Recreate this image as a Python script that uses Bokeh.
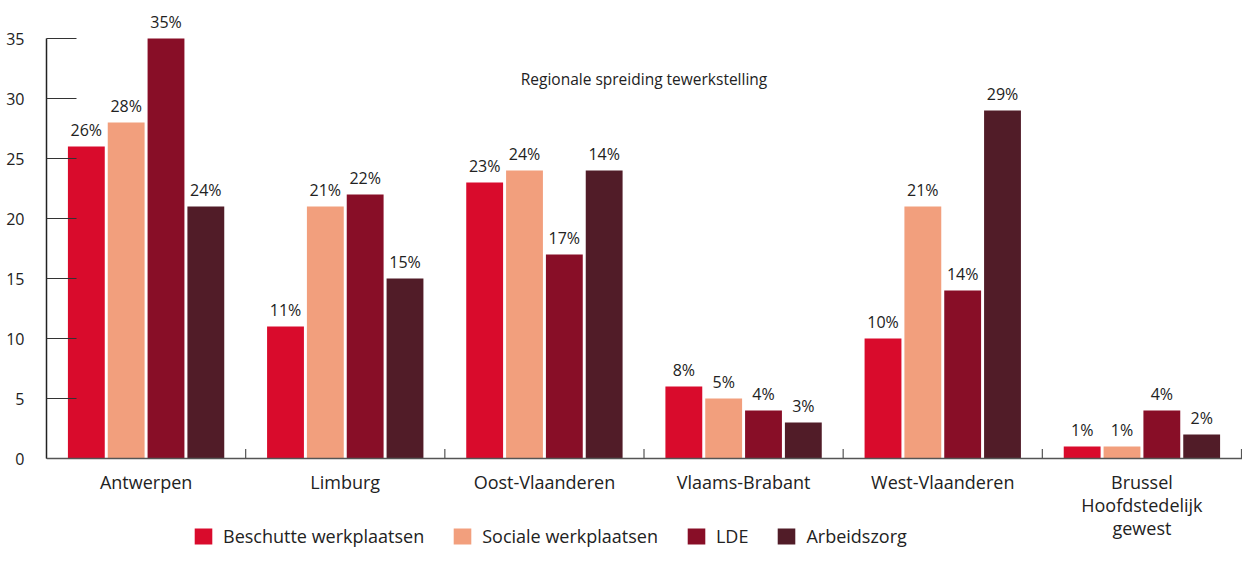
from bokeh.plotting import figure
from bokeh.models import (ColumnDataSource, Range1d, FixedTicker, Legend, LegendItem,
                          Label, LinearAxis, Span)
from bokeh.core.properties import value
from bokeh.embed import file_html
from bokeh.resources import INLINE

regions = ["Antwerpen", "Limburg", "Oost-Vlaanderen", "Vlaams-Brabant",
           "West-Vlaanderen", "Brussel\nHoofdstedelijk\ngewest"]
series = ["Beschutte werkplaatsen", "Sociale werkplaatsen", "LDE", "Arbeidszorg"]
colors = ["#D90B2C", "#F29F7D", "#880E27", "#511C28"]

# bar heights (as drawn)
beschutte = [26, 11, 23, 6, 10, 1]
sociale = [28, 21, 24, 5, 21, 1]
lde = [35, 22, 17, 4, 14, 4]
arbeidszorg = [21, 15, 24, 3, 29, 2]
# printed labels
beschutte_lbl = ["26%", "11%", "23%", "8%", "10%", "1%"]
sociale_lbl = ["28%", "21%", "24%", "5%", "21%", "1%"]
lde_lbl = ["35%", "22%", "17%", "4%", "14%", "4%"]
arbeidszorg_lbl = ["24%", "15%", "14%", "3%", "29%", "2%"]

y_ticks = [0, 5, 10, 15, 20, 25, 30, 35]
title_text = "Regionale spreiding tewerkstelling"

FONT = "Open Sans"
TXT = "#222222"
AX = "#555555"

p = figure(width=1242, height=549, output_backend="svg", toolbar_location=None,
           x_range=Range1d(0, 6.005), y_range=Range1d(-7.583, 38.167),
           x_axis_type=None, y_axis_type=None, min_border_left=46,
           min_border_right=0, min_border_top=0, min_border_bottom=0)
p.outline_line_color = None
p.grid.visible = False
p.background_fill_color = "white"

# y axis (real axis, drawn from 0 to 35)
yax = LinearAxis(ticker=FixedTicker(ticks=y_ticks), bounds=(0, 35))
yax.axis_line_color = "#222222"
yax.axis_line_width = 1.5
yax.major_tick_in = 30
yax.major_tick_out = 0
yax.major_tick_line_color = "#333333"
yax.minor_tick_line_color = None
yax.major_label_standoff = 22
yax.major_label_text_font = FONT
yax.major_label_text_font_size = "16px"
yax.major_label_text_color = TXT
p.add_layout(yax, "left")

# category axis: baseline, group separators and labels
centers = [i + 0.5 for i in range(len(regions))]
boundaries = [float(i) for i in range(1, len(regions) + 1)]
p.add_layout(Span(location=0, dimension="width", line_color=AX, line_width=1.5))
p.segment(x0=boundaries, y0=[0] * len(boundaries), x1=boundaries,
          y1=[0.8] * len(boundaries), line_color=AX, line_width=1.2)
p.text(x=centers, y=[0] * len(centers), text=regions, text_align="center",
       text_baseline="top", y_offset=11, text_font=value(FONT),
       text_font_size="18px", text_color=TXT, text_line_height=0.97)

offsets = [-0.3, -0.1, 0.1, 0.3]
vals = [beschutte, sociale, lde, arbeidszorg]
lbls = [beschutte_lbl, sociale_lbl, lde_lbl, arbeidszorg_lbl]
items = []
for name, col, off, v, lb in zip(series, colors, offsets, vals, lbls):
    src = ColumnDataSource(dict(x=[c + off for c in centers], top=v, lbl=lb))
    r = p.vbar(x="x", top="top", width=0.185, bottom=0, source=src,
               fill_color=col, line_color=None)
    p.text(x="x", y="top", text="lbl", source=src, text_align="center",
           text_baseline="bottom", y_offset=-6, text_font=value(FONT),
           text_font_size="16px", text_color=TXT)
    items.append(LegendItem(label=name, renderers=[r]))

p.add_layout(Label(x=3.0, y=31.6, text=title_text, text_align="center",
                   text_baseline="middle", text_font=FONT, text_font_size="15.5px",
                   text_color=TXT))

legend = Legend(items=items, orientation="horizontal", location=(146, 1))
legend.glyph_width = 22
legend.glyph_height = 20
legend.label_standoff = 9
legend.spacing = 27
legend.padding = 0
legend.margin = 0
legend.border_line_color = None
legend.background_fill_alpha = 0
legend.label_text_font = FONT
legend.label_text_font_size = "18px"
legend.label_text_color = TXT
p.add_layout(legend, "center")

open("out.html", "w").write(file_html(p, INLINE))
